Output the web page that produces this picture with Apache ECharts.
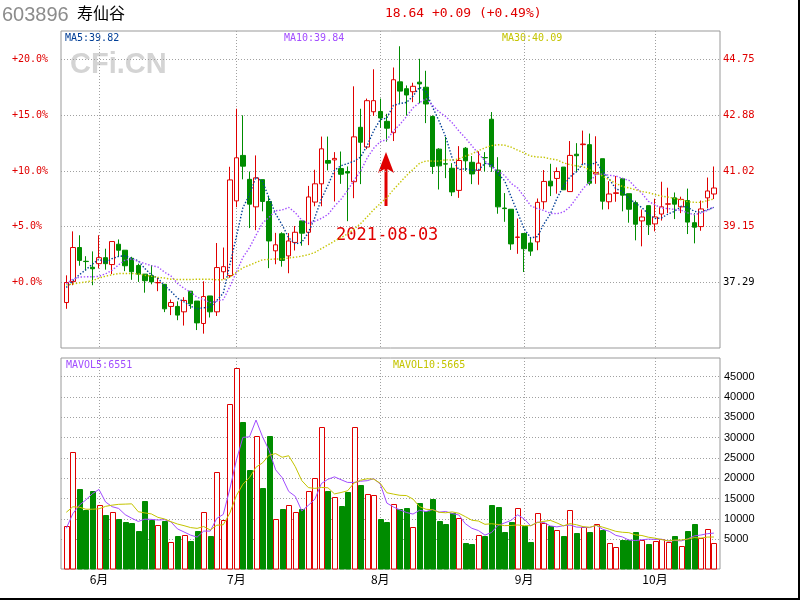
<!DOCTYPE html>
<html><head><meta charset="utf-8">
<script src="https://cdn.jsdelivr.net/npm/echarts@6/dist/echarts.min.js"></script>
<style>html,body{margin:0;padding:0;background:#fff}#c{width:800px;height:600px}</style>
</head><body><div id="c"></div>
<script>
// ---------------- data ----------------
const dates = [
'2021-05-25','2021-05-26','2021-05-27','2021-05-28','2021-05-31',
'2021-06-01','2021-06-02','2021-06-03','2021-06-04','2021-06-07','2021-06-08','2021-06-09','2021-06-10','2021-06-11',
'2021-06-15','2021-06-16','2021-06-17','2021-06-18','2021-06-21','2021-06-22','2021-06-23','2021-06-24','2021-06-25',
'2021-06-28','2021-06-29','2021-06-30',
'2021-07-01','2021-07-02','2021-07-05','2021-07-06','2021-07-07','2021-07-08','2021-07-09','2021-07-12','2021-07-13',
'2021-07-14','2021-07-15','2021-07-16','2021-07-19','2021-07-20','2021-07-21','2021-07-22','2021-07-23','2021-07-26',
'2021-07-27','2021-07-28','2021-07-29','2021-07-30',
'2021-08-02','2021-08-03','2021-08-04','2021-08-05','2021-08-06','2021-08-09','2021-08-10','2021-08-11','2021-08-12',
'2021-08-13','2021-08-16','2021-08-17','2021-08-18','2021-08-19','2021-08-20','2021-08-23','2021-08-24','2021-08-25',
'2021-08-26','2021-08-27','2021-08-30','2021-08-31',
'2021-09-01','2021-09-02','2021-09-03','2021-09-06','2021-09-07','2021-09-08','2021-09-09','2021-09-10','2021-09-13',
'2021-09-14','2021-09-15','2021-09-16','2021-09-17','2021-09-22','2021-09-23','2021-09-24','2021-09-27','2021-09-28',
'2021-09-29','2021-09-30',
'2021-10-08','2021-10-11','2021-10-12','2021-10-13','2021-10-14','2021-10-15','2021-10-18','2021-10-19','2021-10-20','2021-10-21'
];
const opens = [
36.62,37.32,38.46,38.00,37.80,37.92,38.12,37.89,38.57,38.37,
38.10,37.86,37.57,37.52,37.28,37.23,36.49,36.49,36.31,37.00,
36.67,35.92,36.84,36.31,37.65,37.52,40.02,41.54,40.74,39.82,
40.73,40.00,38.35,38.92,38.18,38.63,39.35,38.97,39.98,40.59,
41.37,41.39,41.10,41.00,40.66,42.48,41.82,43.00,43.01,42.68,
42.30,44.00,43.77,43.67,43.99,43.82,42.84,41.75,41.26,41.11,
40.37,41.78,41.31,41.04,41.47,42.75,41.05,39.78,39.74,38.80,
38.93,38.61,38.65,39.99,40.68,40.77,41.15,40.33,41.58,41.90,
41.90,40.92,41.43,39.99,40.27,40.76,40.26,39.96,39.35,39.86,
39.25,39.58,39.91,40.12,39.82,40.03,39.29,39.16,40.12,40.25
];
const closes = [
37.29,38.46,38.03,37.99,37.75,38.12,37.92,38.66,38.37,37.85,
37.65,37.57,37.35,37.31,37.29,36.41,36.62,36.20,36.69,36.58,
35.94,36.82,36.31,37.79,37.82,40.72,41.46,41.18,39.91,40.79,
40.00,38.68,38.55,38.03,38.68,38.97,38.94,40.15,40.59,41.76,
41.28,41.44,40.91,40.95,42.16,41.98,43.37,43.37,42.79,42.45,
44.07,43.69,43.56,43.85,43.93,43.26,41.17,41.19,41.25,40.32,
41.37,41.36,40.92,41.28,41.46,41.16,39.82,39.76,38.58,38.81,
38.42,38.34,39.97,40.67,40.52,41.00,40.39,41.54,41.53,41.92,
40.61,40.97,40.01,40.25,40.29,40.21,39.74,39.24,39.48,39.22,
39.48,39.82,39.92,39.91,40.07,39.31,39.14,39.75,40.35,40.45
];
const lows = [
36.41,37.20,37.85,37.69,37.20,37.76,37.72,37.57,38.15,37.67,
37.38,37.31,36.95,37.23,37.00,36.30,36.20,36.03,35.85,36.41,
35.70,35.58,36.12,36.17,37.40,37.45,39.81,40.74,39.11,39.04,
39.67,37.77,37.90,37.82,37.60,38.36,38.52,38.54,39.84,39.84,
41.04,40.00,40.59,39.34,40.11,40.58,41.75,42.86,42.46,42.00,
42.02,43.27,42.87,43.32,43.28,42.62,40.92,40.40,40.78,40.18,
40.12,41.02,40.58,40.56,41.00,40.99,39.59,39.32,38.38,38.25,
37.64,38.18,38.37,39.74,40.18,40.26,40.39,40.33,40.99,41.24,
40.54,40.59,39.73,39.74,39.99,39.67,39.29,38.70,38.50,38.88,
39.00,39.36,39.61,39.41,39.61,38.91,38.60,39.02,39.77,40.08
];
const highs = [
37.53,39.00,38.87,38.17,38.33,38.87,38.42,38.66,38.73,38.37,
38.15,37.92,37.57,37.87,37.45,37.23,36.72,36.66,36.80,37.00,
36.67,37.33,36.84,38.61,38.46,41.16,43.10,42.88,41.00,41.54,
40.73,40.19,38.95,38.97,38.94,39.18,39.35,40.52,41.06,42.17,
42.17,41.65,41.67,41.17,43.85,43.10,43.44,44.42,43.44,42.93,
44.48,45.19,43.88,43.97,44.77,44.37,42.88,41.78,42.16,41.28,
41.85,41.82,41.52,41.68,41.65,42.99,41.48,40.28,39.74,39.43,
38.93,38.78,40.10,41.05,41.26,41.14,41.15,42.02,41.95,42.37,
42.27,42.18,41.43,40.68,40.85,40.79,40.26,40.03,39.73,39.86,
40.09,40.66,40.46,40.30,40.16,40.43,39.61,40.03,40.80,41.17
];
const volumes = [
8300,26430,17400,12200,16900,13400,11000,11650,10000,9270,
9000,7050,14440,9760,8450,9500,4260,5800,6000,4600,
7050,11650,5800,21500,9680,38250,47100,33900,22080,30370,
17640,30450,9930,12470,13370,11650,12470,16800,20100,32590,
16900,15430,13290,16740,32590,18380,16080,15840,10000,9270,
13620,12390,12720,8040,13950,11980,14930,9500,8860,11400,
10250,4180,3850,6070,5820,13460,12960,6800,9270,12640,
8370,4340,11400,9020,8300,7220,5820,12140,6560,8040,
6800,8700,7300,4010,3030,4920,4840,6720,4920,3850,
4510,5160,4260,5820,3280,7050,8780,5330,7460,4010
];
// moving-average values before a full window exists
const ma5Head = [37.12,37.35,37.55,37.72];
const ma10Head = [37.25,37.40,37.47,37.48,37.48,37.50,37.58,37.70,37.88];
const ma30Head = [37.21,37.24,37.28,37.31,37.35,37.44,37.50,37.55,37.59,37.59,
  37.59,37.58,37.53,37.50,37.46,37.44,37.40,37.39,37.39,37.39,
  37.40,37.40,37.40,37.38,37.38,37.47,37.63,37.78,37.87];
const mavol5Head = [7700,11300,13400,14700];
const mavol10Head = [11650,13000,12900,12400,12400,12500,13100,13400,13600];

const basePrice = 37.29;
const percentTicks = [0, 5, 10, 15, 20];
const volumeTicks = [5000,10000,15000,20000,25000,30000,35000,40000,45000];
const stockCode = '603896';
const stockName = '寿仙谷';
const quoteText = '18.64 +0.09 (+0.49%)';
const maLegend = ['MA5:39.82', 'MA10:39.84', 'MA30:40.09'];
const volLegend = ['MAVOL5:6551', 'MAVOL10:5665'];
const markDate = '2021-08-03';

// ---------------- helpers ----------------
const RED = '#E00000', GREEN = '#008C00';
const C_MA5 = '#003E96', C_MA10 = '#A24DFF', C_MA30 = '#C4C400';
const MONO = '"DejaVu Sans Mono", monospace';
function movingAvg(src, n, head) {
  return src.map((_, i) => {
    if (i < n - 1) return head[i];
    let s = 0; for (let k = i - n + 1; k <= i; k++) s += src[k];
    return +(s / n).toFixed(3);
  });
}
const ma5 = movingAvg(closes, 5, ma5Head);
const ma10 = movingAvg(closes, 10, ma10Head);
const ma30 = movingAvg(closes, 30, ma30Head);
const mavol5 = movingAvg(volumes, 5, mavol5Head);
const mavol10 = movingAvg(volumes, 10, mavol10Head);
const priceTicks = percentTicks.map(p => basePrice * (1 + p / 100));
const isMonthStart = i => i > 0 && dates[i].slice(5, 7) !== dates[i - 1].slice(5, 7);

const P_MIN = 35.10, P_MAX = 45.70;
const V_MIN = -2306, V_MAX = 49600;

const dotted = {type: [1, 2], color: '#A0A0A0', width: 1};
const maDots = {width: 1.4, type: [1.4, 1.8]};

const chart = echarts.init(document.getElementById('c'), null, {renderer: 'canvas'});
const option = {
  animation: false,
  backgroundColor: '#fff',
  textStyle: {fontFamily: MONO},
  grid: [
    {left: 61, right: 80, top: 31, height: 317, show: true, borderColor: '#999', borderWidth: 1},
    {left: 66.3, right: 86.1, top: 31, height: 317},
    {left: 61, right: 80, top: 358, height: 211, show: true, borderColor: '#999', borderWidth: 1},
    {left: 66.3, right: 86.1, top: 358, height: 211}
  ],
  xAxis: [
    {gridIndex: 0, type: 'value', min: 0, max: 1, show: false},
    {gridIndex: 1, type: 'category', data: dates, boundaryGap: false,
      axisLine: {show: false}, axisTick: {show: false}, axisLabel: {show: false},
      splitLine: {show: true, interval: (i) => isMonthStart(i), lineStyle: dotted}},
    {gridIndex: 2, type: 'value', min: 0, max: 1, show: false},
    {gridIndex: 3, type: 'category', data: dates, boundaryGap: false,
      axisLine: {show: false}, axisTick: {show: false},
      axisLabel: {show: true, interval: (i) => isMonthStart(i), margin: 4,
        formatter: v => parseInt(v.slice(5, 7), 10) + '月',
        color: '#000', fontSize: 12, fontFamily: '"Noto Sans CJK SC", sans-serif'},
      splitLine: {show: true, interval: (i) => isMonthStart(i), lineStyle: dotted}}
  ],
  yAxis: [
    {gridIndex: 0, type: 'value', position: 'left', min: P_MIN, max: P_MAX,
      axisLine: {show: false}, axisTick: {show: false, customValues: priceTicks},
      axisLabel: {customValues: priceTicks, align: 'left', margin: 49, fontSize: 10, fontFamily: MONO,
        color: RED,
        formatter: v => '+' + ((v / basePrice - 1) * 100).toFixed(1) + '%'},
      splitLine: {show: true, lineStyle: dotted}},
    {gridIndex: 0, type: 'value', position: 'right', min: P_MIN, max: P_MAX,
      axisLine: {show: false}, axisTick: {show: false, customValues: priceTicks},
      axisLabel: {customValues: priceTicks, margin: 3, fontSize: 10.5, fontFamily: MONO,
        color: (v) => Math.abs(v - basePrice) < 0.001 ? '#000' : RED,
        formatter: v => v.toFixed(2)},
      splitLine: {show: false}},
    {gridIndex: 1, type: 'value', min: P_MIN, max: P_MAX, show: false, splitLine: {show: false}},
    {gridIndex: 2, type: 'value', position: 'right', min: V_MIN, max: V_MAX,
      axisLine: {show: false}, axisTick: {show: false, customValues: volumeTicks},
      axisLabel: {customValues: volumeTicks, margin: 4, fontSize: 11, color: '#000',
        formatter: v => String(Math.round(v)),
        fontFamily: '"Liberation Sans", Arial, sans-serif'},
      splitLine: {show: true, lineStyle: dotted}},
    {gridIndex: 3, type: 'value', min: V_MIN, max: V_MAX, show: false, splitLine: {show: false}}
  ],
  series: [
    {type: 'candlestick', xAxisIndex: 1, yAxisIndex: 2, clip: false, barWidth: 5,
      data: dates.map((d, i) => [opens[i], closes[i], lows[i], highs[i]]),
      itemStyle: {color: '#fff', color0: GREEN, borderColor: RED, borderColor0: GREEN, borderWidth: 1}},
    {type: 'line', name: 'MA5', xAxisIndex: 1, yAxisIndex: 2, data: ma5, symbol: 'none', silent: true,
      lineStyle: Object.assign({color: C_MA5}, maDots)},
    {type: 'line', name: 'MA10', xAxisIndex: 1, yAxisIndex: 2, data: ma10, symbol: 'none', silent: true,
      lineStyle: Object.assign({color: C_MA10}, maDots)},
    {type: 'line', name: 'MA30', xAxisIndex: 1, yAxisIndex: 2, data: ma30, symbol: 'none', silent: true,
      lineStyle: Object.assign({color: C_MA30}, maDots)},
    {type: 'custom', xAxisIndex: 3, yAxisIndex: 4, clip: false,
      data: volumes.map((v, i) => [i, v]),
      renderItem: (params, api) => {
        const i = api.value(0);
        const top = api.coord([i, api.value(1)]);
        const cs = params.coordSys;
        const bottom = cs.y + cs.height;
        const up = closes[i] >= opens[i];
        const w = 5;
        return {type: 'rect',
          shape: {x: Math.round(top[0] - w / 2) + 0.5, y: Math.round(top[1]) + 0.5, width: w, height: bottom - Math.round(top[1]) - 0.5},
          style: {fill: up ? '#fff' : GREEN, stroke: up ? RED : GREEN, lineWidth: 1}};
      }},
    {type: 'line', name: 'MAVOL5', xAxisIndex: 3, yAxisIndex: 4, data: mavol5, symbol: 'none', silent: true,
      lineStyle: {color: C_MA10, width: 1}},
    {type: 'line', name: 'MAVOL10', xAxisIndex: 3, yAxisIndex: 4, data: mavol10, symbol: 'none', silent: true,
      lineStyle: {color: C_MA30, width: 1}}
  ],
  graphic: [
    {type: 'text', z: 0, left: 70, top: 50, style: {text: 'CFi.CN', fill: '#D4D4D4',
      font: 'bold 29px "Liberation Sans", Arial, sans-serif'}},
    {type: 'text', left: 2, top: 5, style: {text: stockCode, fill: '#8C8C8C', font: '20px "Liberation Sans", Arial, sans-serif'}},
    {type: 'text', left: 77, top: 5, style: {text: stockName, fill: '#000', font: '16px "Noto Sans CJK SC", sans-serif'}},
    {type: 'text', left: 385, top: 7, style: {text: quoteText, fill: RED, font: '13px ' + MONO}},
    {type: 'text', left: 65, top: 33, style: {text: maLegend[0], fill: C_MA5, font: '10px ' + MONO}},
    {type: 'text', left: 284, top: 33, style: {text: maLegend[1], fill: C_MA10, font: '10px ' + MONO}},
    {type: 'text', left: 502, top: 33, style: {text: maLegend[2], fill: C_MA30, font: '10px ' + MONO}},
    {type: 'text', left: 66, top: 360, style: {text: volLegend[0], fill: C_MA10, font: '10px ' + MONO}},
    {type: 'text', left: 393, top: 360, style: {text: volLegend[1], fill: C_MA30, font: '10px ' + MONO}},
    {type: 'text', left: 336, top: 227, style: {text: markDate, fill: RED, font: '17px ' + MONO}},
    {type: 'polygon', shape: {points: [[386, 152], [394, 173], [387.5, 169], [387.5, 206], [384.5, 206], [384.5, 169], [378, 173]]},
      style: {fill: RED}},
    {type: 'rect', shape: {x: 798, y: 0, width: 2, height: 600}, style: {fill: '#000'}},
    {type: 'rect', shape: {x: 0, y: 598, width: 800, height: 2}, style: {fill: '#000'}}
  ]
};
chart.setOption(option);
</script>
</body></html>
